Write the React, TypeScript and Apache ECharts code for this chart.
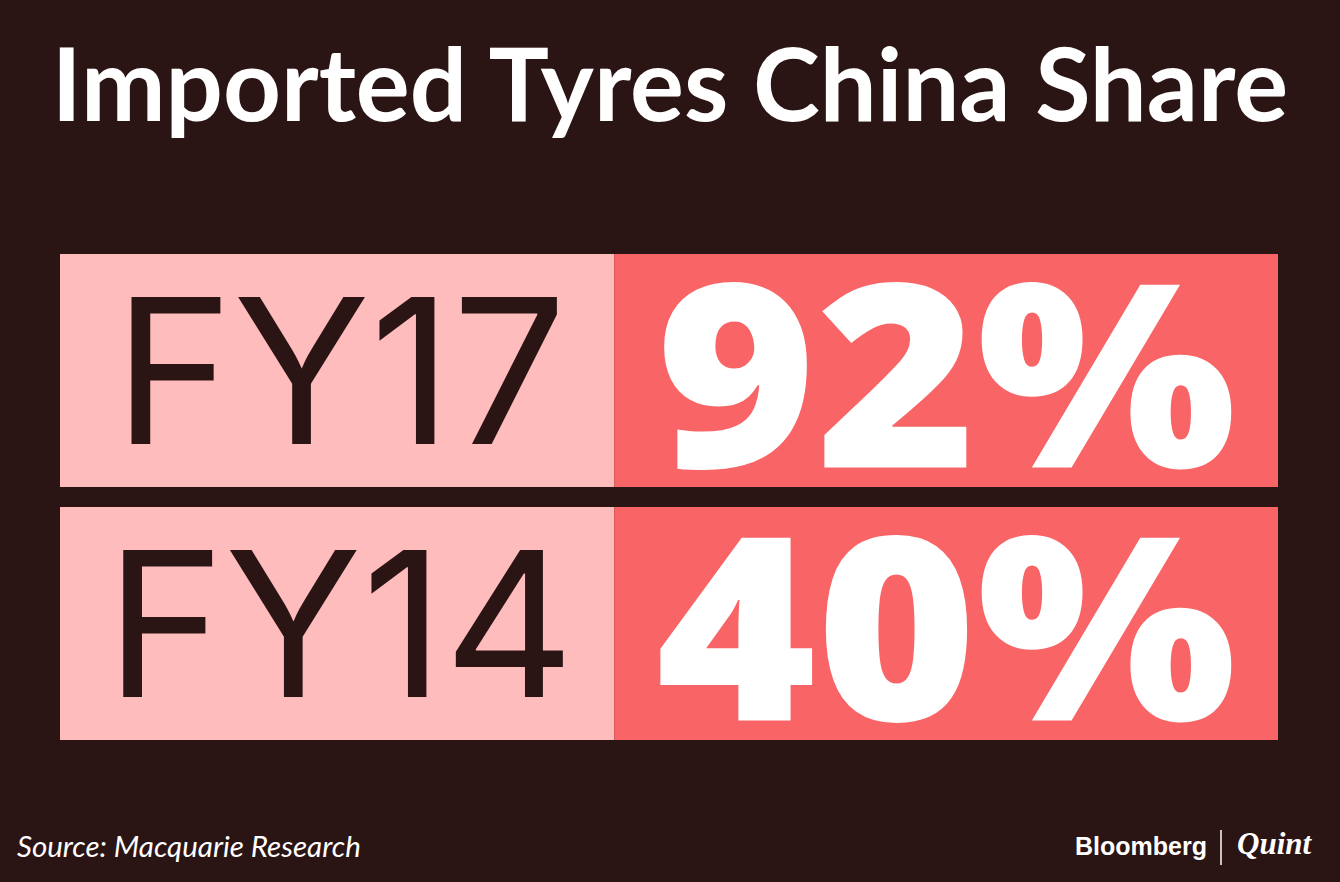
import React, { useEffect, useRef } from "react";
import * as echarts from "echarts";

const TITLE = "Imported Tyres China Share";
const SOURCE = "Source: Macquarie Research";
const categories = ["FY17", "FY14"];
const shares = [92, 40];

const BG = "#2b1414";
const PINK = "#ffbcbc";
const RED = "#f96566";

export default function App() {
  const ref = useRef<HTMLDivElement>(null);
  useEffect(() => {
    if (!ref.current) return;
    const chart = echarts.init(ref.current, null, { renderer: "svg" });
    const split = 0.455;
    chart.setOption({
      animation: false,
      backgroundColor: BG,
      title: {
        text: TITLE,
        left: "center",
        top: 26,
        textStyle: { color: "#ffffff", fontFamily: "Lato", fontWeight: 700, fontSize: 101 },
      },
      grid: { left: 60, right: 62, top: 244, bottom: 132 },
      xAxis: { type: "value", min: 0, max: 1, show: false },
      yAxis: { type: "category", data: categories, inverse: true, show: false },
      series: [
        {
          type: "custom",
          data: categories.map((c, i) => [i, shares[i]]),
          renderItem: (params: any, api: any) => {
            const idx = api.value(0);
            const val = api.value(1);
            const left = api.coord([0, idx]);
            const right = api.coord([1, idx]);
            const mid = api.coord([split, idx]);
            const band = api.size([0, 1])[1];
            const h = band - 20;
            const top = left[1] - h / 2;
            return {
              type: "group",
              children: [
                { type: "rect", shape: { x: left[0], y: top, width: mid[0] - left[0], height: h }, style: { fill: PINK } },
                { type: "rect", shape: { x: mid[0], y: top, width: right[0] - mid[0], height: h }, style: { fill: RED } },
                {
                  type: "text",
                  x: (left[0] + mid[0]) / 2 + 3,
                  y: left[1],
                  style: {
                    text: categories[idx],
                    x: 0,
                    y: 0,
                    align: "center",
                    verticalAlign: "middle",
                    fill: BG,
                    font: "400 202px Inter",
                  },
                },
                {
                  type: "text",
                  x: (mid[0] + right[0]) / 2,
                  y: left[1] - 2,
                  scaleX: 1.07,
                  style: {
                    text: val + "%",
                    x: 0,
                    y: 0,
                    align: "center",
                    verticalAlign: "middle",
                    fill: "#ffffff",
                    font: "800 256px 'Open Sans'",
                  },
                },
              ],
            };
          },
        },
      ],
      graphic: [
        {
          type: "text",
          left: 17,
          top: 830,
          style: { text: SOURCE, fill: "#ffffff", font: "italic 400 29.5px Lato" },
        },
        {
          type: "text",
          left: 1075,
          top: 833,
          style: { text: "Bloomberg", fill: "#ffffff", font: "700 25px 'Liberation Sans'" },
        },
        {
          type: "line",
          shape: { x1: 1221, y1: 830, x2: 1221, y2: 865 },
          style: { stroke: "#ffffff", lineWidth: 1.5 },
        },
        {
          type: "text",
          left: 1237,
          top: 828,
          style: { text: "Quint", fill: "#ffffff", font: "italic 700 31px 'Liberation Serif'" },
        },
      ],
    });
    return () => chart.dispose();
  }, []);
  return <div ref={ref} style={{ position: "fixed", left: 0, top: 0, width: 1340, height: 882 }} />;
}
